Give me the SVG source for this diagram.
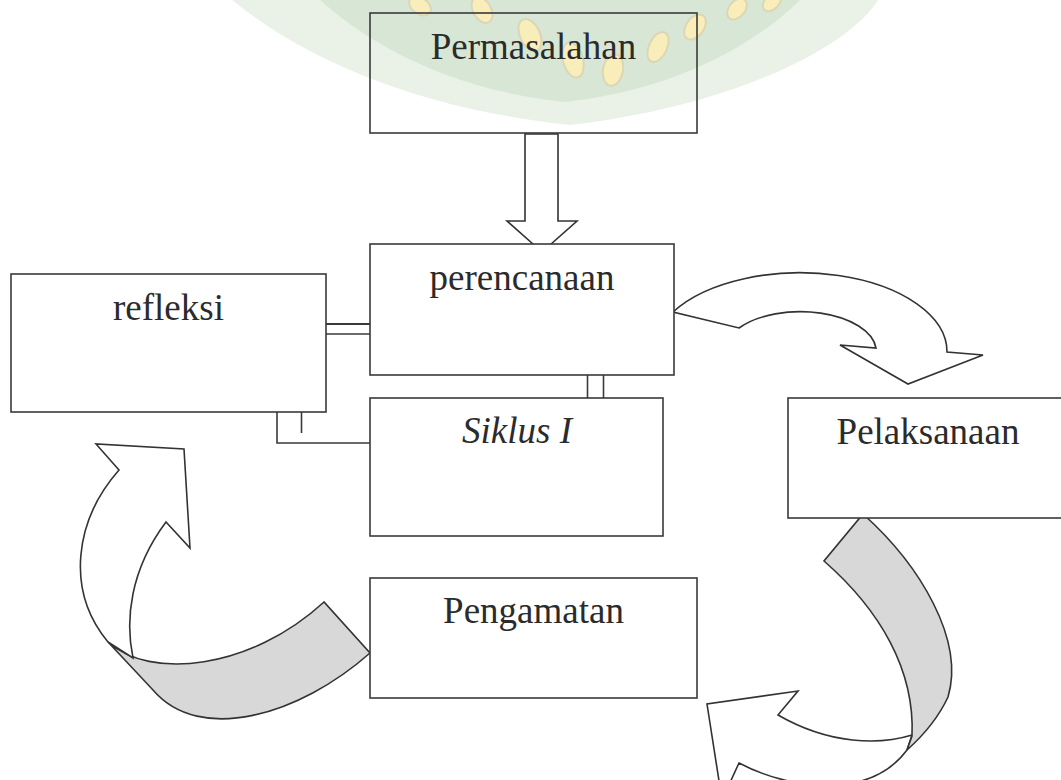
<svg xmlns="http://www.w3.org/2000/svg" width="1061" height="780" viewBox="0 0 1061 780">
<style>
.box{fill:#fff;stroke:#3a3a3a;stroke-width:1.6}
.boxn{fill:none;stroke:#3a3a3a;stroke-width:1.6}
.lbl{font-family:"Liberation Serif","Times New Roman",serif;font-size:37px;fill:#2b2b2b;text-anchor:middle}
.ln{fill:none;stroke:#3a3a3a;stroke-width:1.6}
.arw{fill:#fff;stroke:#333;stroke-width:1.6;stroke-linejoin:miter}
.band{fill:#d8d8d8;stroke:#333;stroke-width:1.6}
.wm-y{fill:#f4dc78;stroke:#b8b070;stroke-width:2}
</style>
<rect width="1061" height="780" fill="#fff"/>
<g id="watermark" opacity="0.5">
<path d="M232,0 L878,0 C850,45 740,105 570,125 C410,108 300,55 232,0 Z" fill="#d6e6d2"/>
<path d="M320,0 L800,0 C760,40 680,90 565,102 C450,90 370,45 320,0 Z" fill="#b3cfad"/>
<ellipse class="wm-y" cx="420" cy="6" rx="12" ry="8" transform="rotate(35 420 6)"/>
<ellipse class="wm-y" cx="482" cy="10" rx="14" ry="9" transform="rotate(60 482 10)"/>
<ellipse class="wm-y" cx="530" cy="35" rx="17" ry="10" transform="rotate(65 530 35)"/>
<ellipse class="wm-y" cx="573" cy="60" rx="18" ry="10" transform="rotate(75 573 60)"/>
<ellipse class="wm-y" cx="613" cy="70" rx="16" ry="10" transform="rotate(100 613 70)"/>
<ellipse class="wm-y" cx="658" cy="47" rx="16" ry="9" transform="rotate(115 658 47)"/>
<ellipse class="wm-y" cx="695" cy="27" rx="14" ry="9" transform="rotate(125 695 27)"/>
<ellipse class="wm-y" cx="737" cy="9" rx="12" ry="8" transform="rotate(130 737 9)"/>
<ellipse class="wm-y" cx="772" cy="2" rx="11" ry="7" transform="rotate(135 772 2)"/>
</g>
<g id="connectors">
<path class="arw" d="M525,134 L525,221 L507,221 L542,252 L577,221 L558,221 L558,134 Z"/>
<line class="ln" x1="326" y1="324" x2="370" y2="324" style="stroke-width:2.2"/>
<line class="ln" x1="326" y1="334" x2="370" y2="334"/>
<polyline class="ln" points="277,412 277,443 370,443"/>
<line class="ln" x1="301.5" y1="412" x2="301.5" y2="433"/>
<line class="ln" x1="587.5" y1="375" x2="587.5" y2="398"/>
<line class="ln" x1="603.5" y1="375" x2="603.5" y2="398"/>
<path class="arw" d="M673,312 A147,79 0 0 1 947,352 L983,355 L908,384 L840,345 L876,348 A76,40 0 0 0 739,328 Z"/>
<path class="arw" d="M912,735 C880,745 830,745 778,715 L798,691 L707,704 L722,800 L739,763 C790,790 870,800 907,750 Z"/>
<path class="band" d="M863,514 C920,565 965,640 948,697 Q935,725 907,750 L912,736 C915,670 880,610 824,561 Z"/>
<path class="band" d="M108,642 C150,680 250,670 324,602 L370,653 C300,715 200,745 153,690 Z"/>
<path class="arw" d="M108,642 C65,590 75,520 119,470 L96,444 L184,449 L190,548 L166,522 C130,570 125,620 133,658 Z"/>
</g>
<g id="permasalahan">
<rect class="boxn" x="370" y="13" width="327" height="120"/>
<text class="lbl" x="533.5" y="59">Permasalahan</text>
</g>
<g id="perencanaan">
<rect class="box" x="370" y="244" width="304" height="131"/>
<text class="lbl" x="522" y="290">perencanaan</text>
</g>
<g id="refleksi">
<rect class="box" x="11" y="274" width="315" height="138"/>
<text class="lbl" x="168.5" y="320">refleksi</text>
</g>
<g id="siklus">
<rect class="box" x="370" y="398" width="293" height="138"/>
<text class="lbl" x="517" y="443" font-style="italic">Siklus I</text>
</g>
<g id="pelaksanaan">
<rect class="box" x="788" y="398" width="290" height="120"/>
<text class="lbl" x="928" y="444">Pelaksanaan</text>
</g>
<g id="pengamatan">
<rect class="box" x="370" y="578" width="327" height="120"/>
<text class="lbl" x="533.5" y="623">Pengamatan</text>
</g>
</svg>
